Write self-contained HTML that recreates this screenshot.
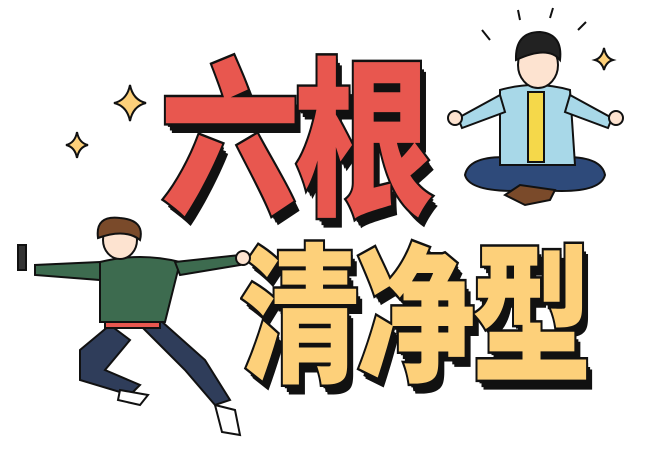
<!DOCTYPE html>
<html><head><meta charset="utf-8"><style>
html,body{margin:0;padding:0;background:#fff;}
#root{position:relative;width:650px;height:450px;overflow:hidden;background:#fff;}
.big{position:absolute;font-family:"Noto Sans CJK SC","WenQuanYi Zen Hei",sans-serif;font-weight:900;line-height:1;-webkit-text-stroke:4px #111;paint-order:stroke fill;transform-origin:left top;}
.red{color:#e8574f;font-size:140px;text-shadow:6px 8px 0 #111,4px 6px 0 #111,2px 3px 0 #111;letter-spacing:-6px;transform:scaleY(1.22);}
.yel{color:#fdd07a;font-size:120px;text-shadow:6px 8px 0 #111,4px 6px 0 #111,2px 3px 0 #111;letter-spacing:-4px;transform:scaleY(1.25);}
svg{position:absolute;left:0;top:0;}
</style></head><body>
<div id="root">
<svg width="650" height="450">
  <path d="M130 85 Q133 100 146 103 Q133 106 130 121 Q127 106 114 103 Q127 100 130 85Z" fill="#fdd07a" stroke="#111" stroke-width="2"/>
  <path d="M77 132 Q79 143 88 145 Q79 147 77 158 Q75 147 66 145 Q75 143 77 132Z" fill="#fdd07a" stroke="#111" stroke-width="2"/>
  <path d="M604 48 Q606 58 613 60 Q606 62 604 70 Q602 62 595 60 Q602 58 604 48Z" fill="#fdd07a" stroke="#111" stroke-width="2"/>
</svg>
<div class="big red" style="left:160px;top:43px;">六根</div>
<div class="big yel" style="left:240px;top:230px;">清净型</div>
<svg width="650" height="450">
  <g stroke="#111" stroke-width="2">
    <path d="M490 40 L482 30 M520 20 L518 10 M550 18 L553 8 M578 30 L586 22" />
    <path d="M465 175 Q470 150 535 160 Q600 150 605 175 Q600 195 540 190 Q470 195 465 175Z" fill="#2e4a7a"/>
    <path d="M505 195 L525 205 L550 200 L555 190 L520 185Z" fill="#7a4a2a"/>
    <path d="M500 90 Q535 80 570 90 L575 165 L500 165Z" fill="#a8d8e8"/>
    <rect x="528" y="92" width="16" height="70" fill="#f5d84a"/>
    <path d="M500 95 L458 118 L462 128 L505 112Z M570 95 L612 118 L608 128 L565 112Z" fill="#a8d8e8"/>
    <circle cx="455" cy="118" r="7" fill="#fde3d0"/><circle cx="616" cy="118" r="7" fill="#fde3d0"/>
    <ellipse cx="538" cy="65" rx="20" ry="23" fill="#fde3d0"/>
    <path d="M516 60 Q515 32 540 32 Q563 34 560 60 Q548 45 516 60Z" fill="#222"/>
  </g>
  <g stroke="#111" stroke-width="2">
    <path d="M110 325 L80 350 L80 380 L130 395 L140 385 L105 370 L130 340Z" fill="#2f3d5a"/>
    <path d="M140 325 L185 370 L215 405 L230 400 L205 360 L160 320Z" fill="#2f3d5a"/>
    <path d="M120 390 L148 395 L140 405 L118 400Z" fill="#fff"/>
    <path d="M215 405 L235 410 L240 435 L222 432Z" fill="#fff"/>
    <rect x="105" y="320" width="55" height="8" fill="#e8574f"/>
    <path d="M100 262 Q140 252 180 262 L165 322 L100 322Z" fill="#3d6b4f"/>
    <path d="M100 262 L35 265 L35 275 L100 280Z" fill="#3d6b4f"/>
    <path d="M175 262 L240 255 L240 265 L180 275Z" fill="#3d6b4f"/>
    <rect x="18" y="245" width="8" height="25" fill="#333"/>
    <circle cx="243" cy="258" r="7" fill="#fde3d0"/>
    <ellipse cx="120" cy="240" rx="17" ry="19" fill="#fde3d0"/>
    <path d="M98 238 Q95 215 120 218 Q145 220 140 240 Q125 228 98 238Z" fill="#7a4a2a"/>
  </g>
</svg>
</div>
</body></html>
